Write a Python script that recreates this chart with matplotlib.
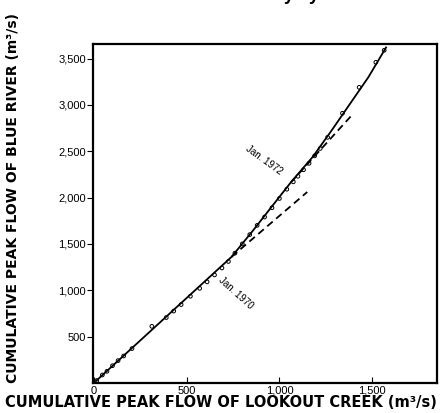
import numpy as np
import matplotlib
matplotlib.use('Agg')
import matplotlib.pyplot as plt

plt.rcParams['font.family'] = ['Liberation Sans', 'DejaVu Sans']

# observed cumulative peak flows (Lookout Creek vs Blue River), m3/s
obs_x = np.array([15, 45, 70, 100, 130, 160, 205, 312, 390, 430, 470, 520, 570, 610, 650, 690, 725,
                  760, 800, 840, 880, 920, 960, 1000, 1040, 1075, 1100, 1130, 1160, 1190, 1220, 1260,
                  1340, 1430, 1520, 1565])
obs_y = np.array([25, 85, 125, 185, 240, 290, 370, 610, 705, 775, 845, 935, 1020, 1090, 1165, 1240, 1310,
                  1400, 1500, 1600, 1700, 1790, 1890, 1990, 2090, 2170, 2230, 2300, 2370, 2450, 2530, 2650,
                  2910, 3190, 3460, 3590])

# curve fitted by eye
fit_x = [0, 742, 860, 950, 1060, 1180, 1280, 1380, 1480, 1575]
fit_y = [0, 1360, 1650, 1880, 2160, 2440, 2720, 3010, 3300, 3620]

# extension of pre-1970 trend
ext70_x = [742, 1150]
ext70_y = [1360, 2060]
# extension of 1970-1972 trend
ext72_x = [1060, 1400]
ext72_y = [2160, 2910]

xticks = [0, 500, 1000, 1500]
xticklabels = ['0', '500', '1,000', '1,500']
yticks = [500, 1000, 1500, 2000, 2500, 3000, 3500]
yticklabels = ['500', '1,000', '1,500', '2,000', '2,500', '3,000', '3,500']

fig = plt.figure(figsize=(4.41, 4.13), dpi=100)
ax = fig.add_axes([0.211, 0.073, 0.78, 0.821])

ax.plot(fit_x, fit_y, color='k', lw=1.3)
ax.plot(ext70_x, ext70_y, color='k', lw=1.3, ls=(0, (4, 2.5)))
ax.plot(ext72_x, ext72_y, color='k', lw=1.3, ls=(0, (4, 2.5)))
ax.scatter(obs_x, obs_y, s=7, facecolors='none', edgecolors='k', linewidths=0.7, zorder=3)

ax.text(915, 2400, 'Jan. 1972', rotation=-36, ha='center', va='center', fontsize=7)
ax.text(763, 972, 'Jan. 1970', rotation=-42, ha='center', va='center', fontsize=7)

ax.set_xlim(-5, 1850)
ax.set_ylim(0, 3660)
ax.set_xticks(xticks)
ax.set_xticklabels(xticklabels)
ax.set_yticks(yticks)
ax.set_yticklabels(yticklabels)
ax.tick_params(axis='x', direction='in', length=4, labelsize=8, pad=2)
ax.tick_params(axis='y', direction='out', length=4, labelsize=8, pad=1)
for s in ax.spines.values():
    s.set_linewidth(1.6)

fig.text(0.5, 0.026, 'CUMULATIVE PEAK FLOW OF LOOKOUT CREEK (m³/s)', fontsize=10.5,
         fontweight='bold', family='DejaVu Sans', ha='center', va='center')
fig.text(0.03, 0.52, 'CUMULATIVE PEAK FLOW OF BLUE RIVER (m³/s)', rotation=90,
         fontsize=10, fontweight='bold', family='DejaVu Sans', ha='center', va='center')

fig.text(0.525, 1.012, 'Curve was fitted by eye.', fontsize=13, fontweight='bold',
         ha='center', va='center')

fig.savefig('out.png', dpi=100)
